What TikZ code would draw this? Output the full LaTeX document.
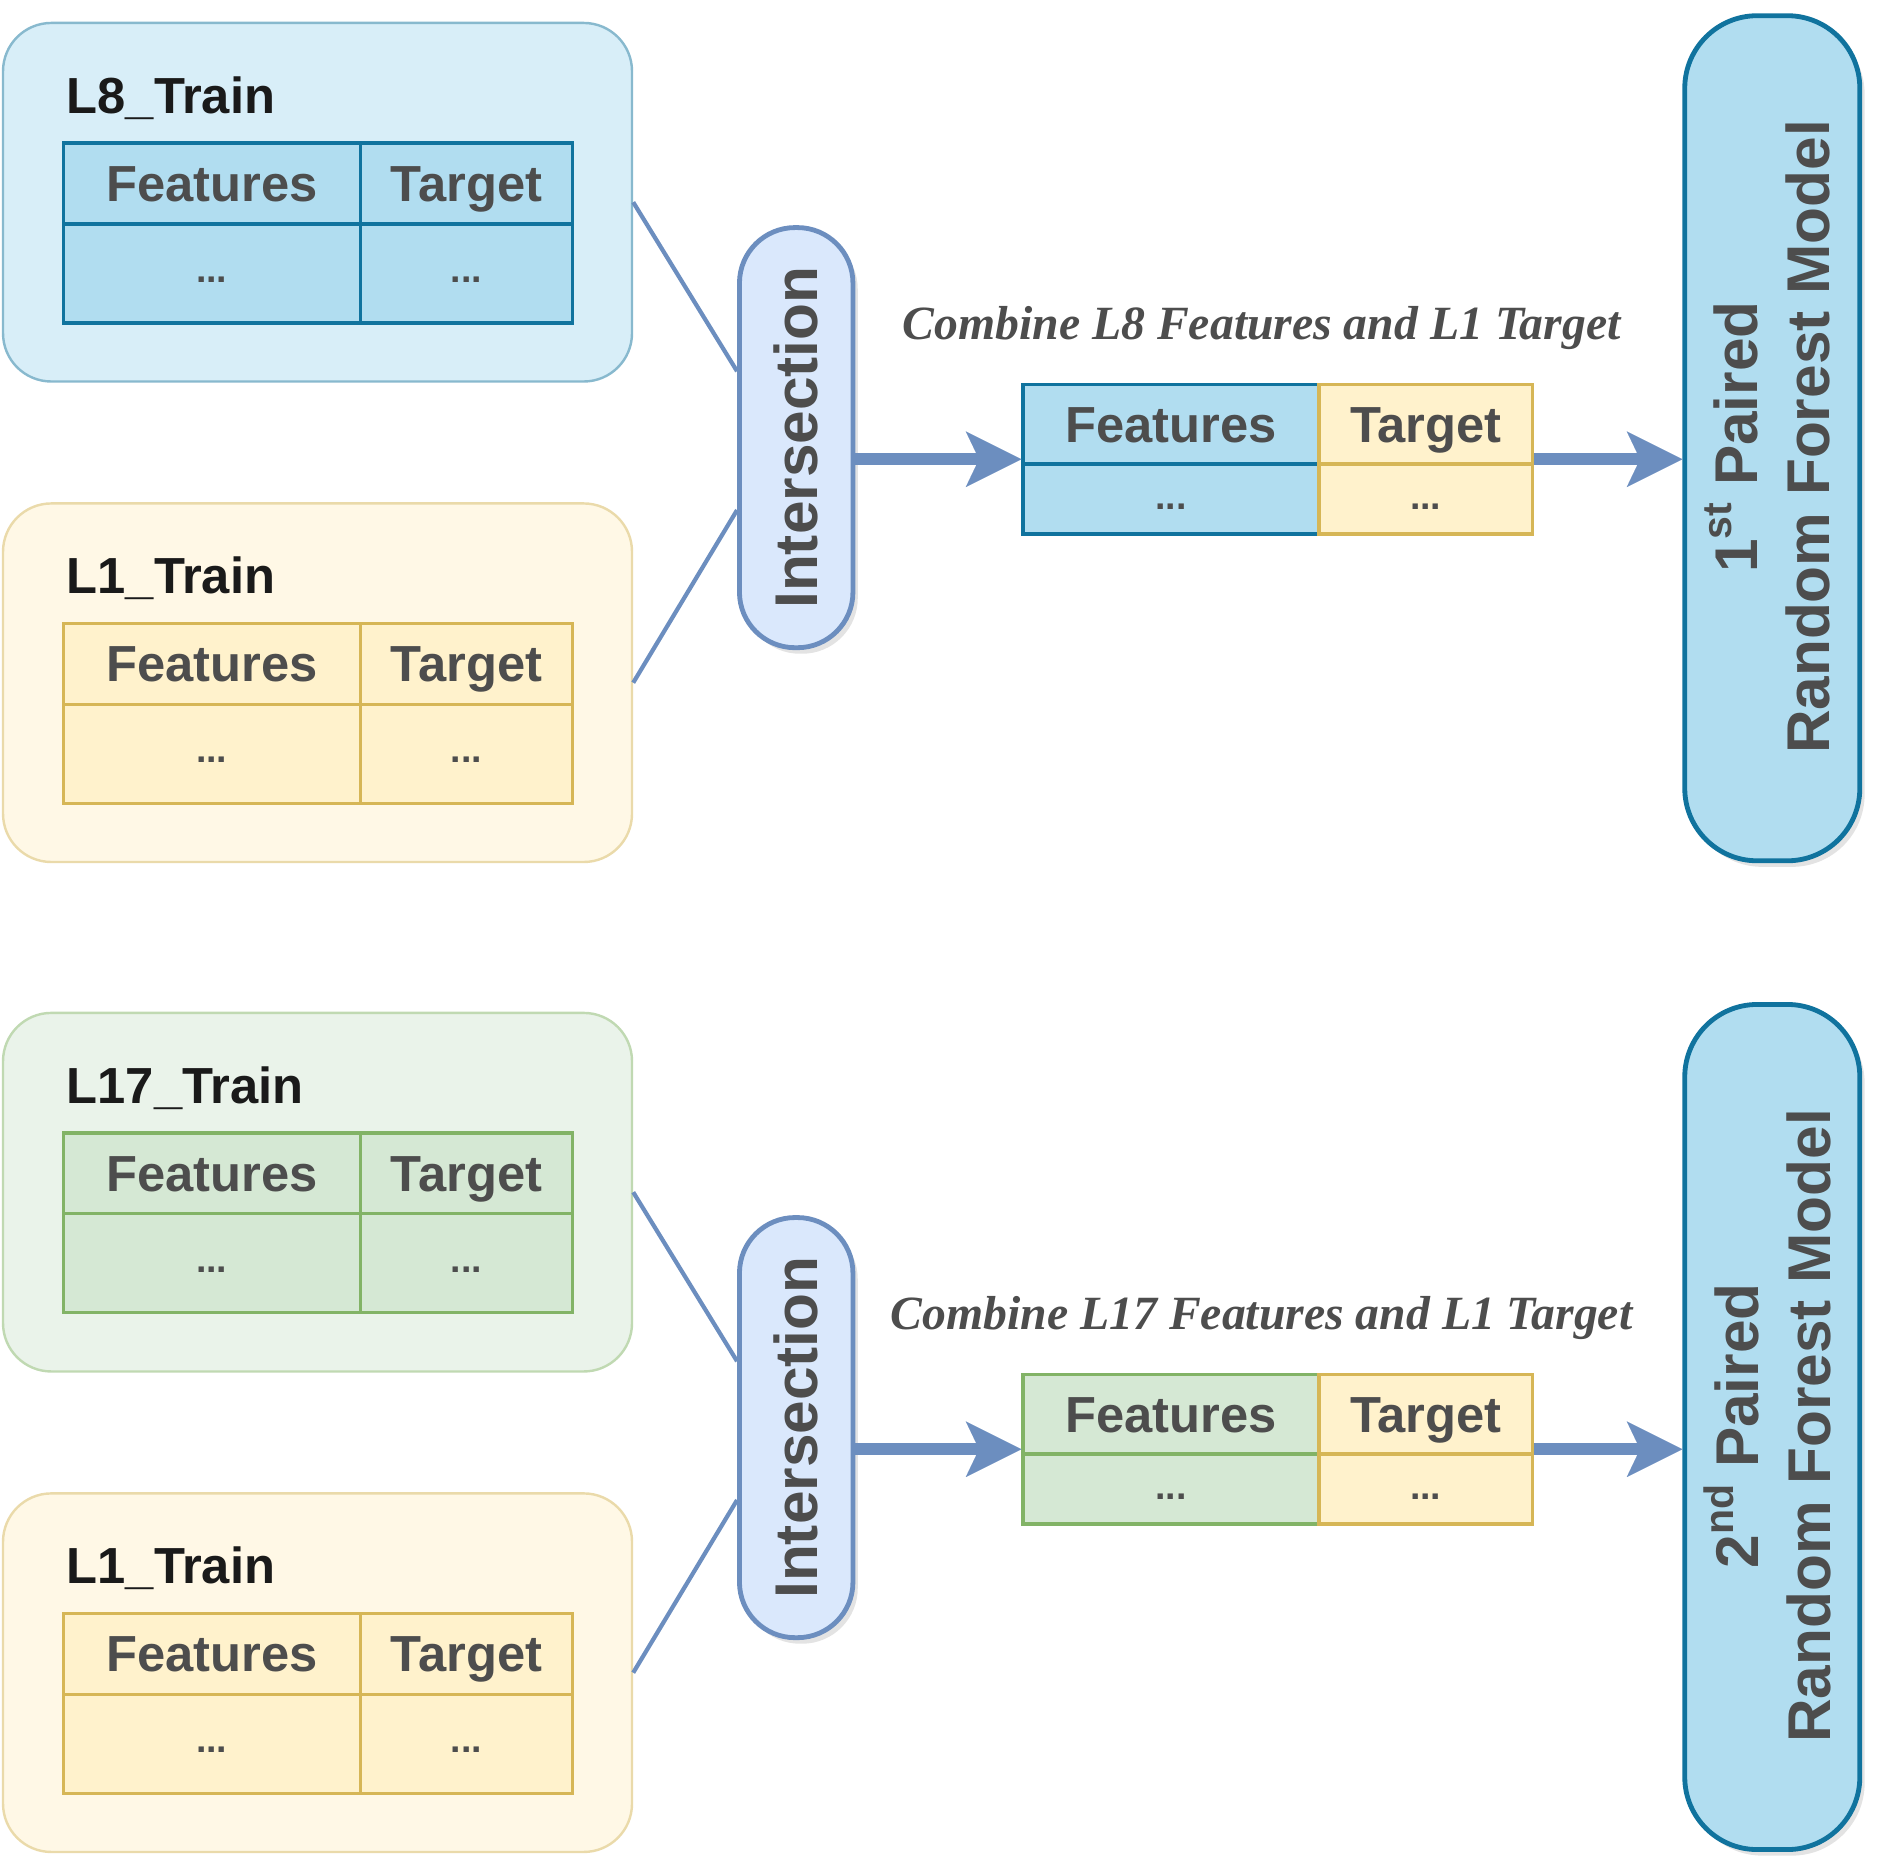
\documentclass[tikz,border=0pt]{standalone}
\usepackage{fontspec}
\setmainfont{Liberation Sans}
\newfontfamily\serifbi{Liberation Serif}
\usetikzlibrary{arrows.meta,shadows,calc}

\definecolor{bfill}{HTML}{B1DDF0}
\definecolor{bline}{HTML}{10739E}
\definecolor{yfill}{HTML}{FFF2CC}
\definecolor{yline}{HTML}{D6B656}
\definecolor{gfill}{HTML}{D5E8D4}
\definecolor{gline}{HTML}{82B366}
\definecolor{ifill}{HTML}{DAE8FC}
\definecolor{iline}{HTML}{6C8EBF}
\definecolor{txt}{HTML}{4D4D4D}
\definecolor{ttl}{HTML}{1A1A1A}

\tikzset{
  outerbox/.style={draw, line width=2pt, rounded corners=40pt, minimum width=521pt,
    minimum height=297pt, anchor=north west, inner sep=0pt},
  titletext/.style={anchor=base west, inner sep=0pt, text=ttl,
    font=\fontsize{42}{50}\selectfont\bfseries},
  cell/.style={draw, line width=2.8pt, inner sep=0pt, anchor=north west,
    text=txt, font=\fontsize{42}{50}\selectfont\bfseries, text height=30pt, text depth=0pt},
  dotstext/.style={inner sep=0pt, text=txt, font=\fontsize{31}{34}\selectfont\bfseries},
  interpill/.style={draw=iline, fill=ifill, line width=4pt, rounded corners=46pt,
    minimum width=94pt, minimum height=348pt, inner sep=0pt,
    drop shadow={opacity=0.22, shadow xshift=4pt, shadow yshift=-5pt}},
  intertext/.style={rotate=90, text=txt, inner sep=0pt,
    font=\fontsize{50}{60}\selectfont\bfseries},
  modelpill/.style={draw=bline, fill=bfill, line width=4pt, rounded corners=60pt,
    minimum width=145pt, minimum height=700pt, inner sep=0pt,
    drop shadow={opacity=0.22, shadow xshift=4pt, shadow yshift=-5pt}},
  modeltext/.style={rotate=90, text=txt, inner sep=0pt, align=center,
    font=\fontsize{50}{60}\selectfont\bfseries},
  combinetext/.style={anchor=base, inner sep=0pt, text=txt,
    font=\fontsize{39.5}{46}\selectfont\serifbi\bfseries\itshape},
  thinline/.style={draw=iline, line width=3.5pt},
  thickarrow/.style={draw=iline, line width=10pt,
    -{Stealth[length=46pt, width=46pt, inset=11pt, line width=0.01pt]}},
}

\newcommand\bigsup[1]{\raisebox{0.42em}{\fontsize{34}{40}\selectfont #1}}

% #1 name, #2 top y, #3 title, #4 fill, #5 line
\newcommand\trainbox[5]{%
  \node[outerbox, fill=#4!50!white, draw=#5!50!white] (#1box) at (1.5,#2) {};
  \node[titletext] (#1title) at (55,#2+76) {#3};
  \node[cell, fill=#4, draw=#5, minimum width=246pt, minimum height=67pt] (#1fh) at (51,#2+99) {Features};
  \node[cell, fill=#4, draw=#5, minimum width=176pt, minimum height=67pt] (#1th) at (297,#2+99) {Target};
  \node[cell, fill=#4, draw=#5, minimum width=246pt, minimum height=82pt] (#1fb) at (51,#2+166) {};
  \node[cell, fill=#4, draw=#5, minimum width=176pt, minimum height=82pt] (#1tb) at (297,#2+166) {};
  \node[dotstext] (#1fd) at ($(#1fb.center)+(0,5)$) {...};
  \node[dotstext] (#1td) at ($(#1tb.center)+(0,5)$) {...};
}

% #1 name, #2 top y, #3 feature fill, #4 feature line
\newcommand\combtable[4]{%
  \node[cell, fill=#3, draw=#4, minimum width=245pt, minimum height=66pt] (#1fh) at (846,#2) {Features};
  \node[cell, fill=#3, draw=#4, minimum width=245pt, minimum height=58pt] (#1fb) at (846,#2+66) {};
  \node[cell, fill=yfill, draw=yline, minimum width=177pt, minimum height=66pt] (#1th) at (1091,#2) {Target};
  \node[cell, fill=yfill, draw=yline, minimum width=177pt, minimum height=58pt] (#1tb) at (1091,#2+66) {};
  \node[dotstext] (#1fd) at ($(#1fb.center)+(0,6)$) {...};
  \node[dotstext] (#1td) at ($(#1tb.center)+(0,6)$) {...};
  \coordinate (#1w) at ($(#1fh.north west)!0.5!(#1fb.south west)$);
  \coordinate (#1e) at ($(#1th.north east)!0.5!(#1tb.south east)$);
}

\begin{document}
\begin{tikzpicture}[x=1pt, y=-1pt]
\useasboundingbox (0,0) rectangle (1568,1553);

% ---------- top group ----------
\trainbox{a}{18}{L8\_Train}{bfill}{bline}
\trainbox{b}{416}{L1\_Train}{yfill}{yline}
\node[interpill] (int1) at (659.5,362.5) {};
\node[intertext] (int1t) at (int1.center) {Intersection};
\combtable{c}{317}{bfill}{bline}
\node[combinetext] (comb1) at (1045,281) {Combine L8 Features and L1 Target};
\node[modelpill] (m1) at (1468,363) {};
\node[modeltext] (m1t) at (1464,362) {1\bigsup{st} Paired\\Random Forest Model};

\draw[thinline] (abox.east) -- ($(int1.west)+(0,-55)$);
\draw[thinline] (bbox.east) -- ($(int1.west)+(0,60)$);
\draw[thickarrow] (int1.east |- cw) -- (cw);
\draw[thickarrow] (ce) -- (m1.west |- ce);

% ---------- bottom group ----------
\trainbox{d}{838}{L17\_Train}{gfill}{gline}
\trainbox{e}{1236}{L1\_Train}{yfill}{yline}
\node[interpill] (int2) at (659.5,1182.5) {};
\node[intertext] (int2t) at (int2.center) {Intersection};
\combtable{f}{1137}{gfill}{gline}
\node[combinetext] (comb2) at (1045,1101) {Combine L17 Features and L1 Target};
\node[modelpill] (m2) at (1468,1182) {};
\node[modeltext] (m2t) at (1464,1181) {2\bigsup{nd} Paired\\Random Forest Model};

\draw[thinline] (dbox.east) -- ($(int2.west)+(0,-55)$);
\draw[thinline] (ebox.east) -- ($(int2.west)+(0,60)$);
\draw[thickarrow] (int2.east |- fw) -- (fw);
\draw[thickarrow] (fe) -- (m2.west |- fe);
\end{tikzpicture}
\end{document}
